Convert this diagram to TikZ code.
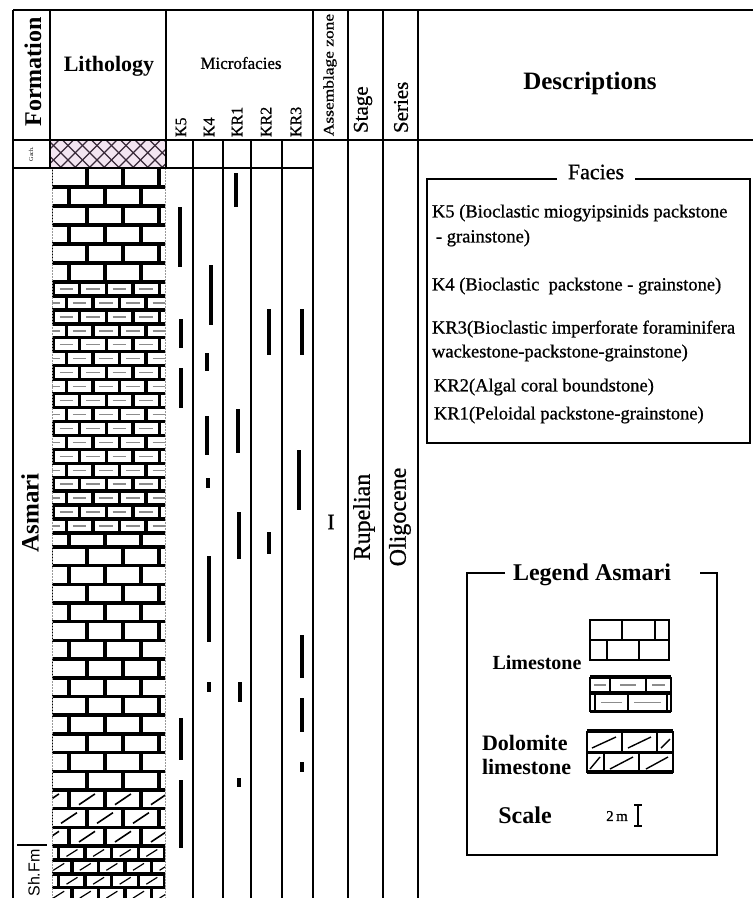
\documentclass[tikz,border=0pt]{standalone}
\usepackage{fontspec}
\setmainfont{Liberation Serif}
\newfontfamily\dk[FakeBold=0.8]{Liberation Serif}
\newfontfamily\shfont{Liberation Sans}
\newcommand{\fsz}[1]{\fontsize{#1}{#1}\selectfont}
\definecolor{hatchpink}{RGB}{243,229,241}
\definecolor{hatchline}{RGB}{55,40,55}
\begin{document}
\begin{tikzpicture}[x=1pt,y=-1pt,
  frame/.style={line width=2pt,black},
  subrule/.style={line width=1.5pt,black},
  colrule/.style={line width=1.8pt,black},
  mortar/.style={line width=3.4pt,black},
  finemortar/.style={line width=3.4pt,black},
  dashmark/.style={line width=1.4pt,black!45},
  slash/.style={line width=1.6pt,black},
  rangebar/.style={line width=4pt,black,line cap=butt},
  txt/.style={inner sep=0pt,outer sep=0pt,text=black},
  boxline/.style={line width=1.7pt,black},
]
\useasboundingbox (0,0) rectangle (753,898);
\fill[white] (0,0) rectangle (753,898);

% ---------- anhydrite cross-hatch ----------
\fill[hatchpink] (51,140) rectangle (166,168);
\begin{scope}
\clip (51,140) rectangle (166,168);
\foreach \k in {0,...,12}{
  \draw[hatchline,line width=1.3pt] ({30+14.5*\k},140) -- ++(-40,40);
  \draw[hatchline,line width=1.3pt] ({-10+14.5*\k},140) -- ++(40,40);
}
\end{scope}

% ---------- upper limestone (big bricks) ----------
\begin{scope}
\clip (52,166.5) rectangle (165,283);
\foreach \r in {0,...,5}{
  \pgfmathsetmacro{\ya}{168+19*\r}
  \pgfmathsetmacro{\yb}{\ya+19}
  \pgfmathsetmacro{\ph}{mod(\r,2)==0 ? 51 : 69}
  \draw[mortar] (40,\yb) -- (180,\yb);
  \foreach \k in {-1,...,4}{
    \pgfmathsetmacro{\xv}{\ph+36*\k}
    \draw[mortar] (\xv,\ya) -- (\xv,\yb);
  }
}
\end{scope}

% ---------- thin-bedded limestone (small bricks) ----------
\begin{scope}
\clip (52,281) rectangle (165,534);
\foreach \r in {0,...,17}{
  \pgfmathsetmacro{\ya}{282+13.944*\r}
  \pgfmathsetmacro{\yb}{\ya+13.944}
  \pgfmathsetmacro{\ym}{\ya+6.97}
  \pgfmathsetmacro{\ph}{mod(\r,2)==0 ? 53 : 66.3}
  \draw[finemortar] (40,\yb) -- (180,\yb);
  \foreach \k in {-1,...,5}{
    \pgfmathsetmacro{\xv}{\ph+26.6*\k}
    \draw[finemortar] (\xv,\ya) -- (\xv,\yb);
    \draw[dashmark] (\xv+6.5,\ym) -- (\xv+20,\ym);
  }
}
\end{scope}

% ---------- lower limestone / dolomitic limestone ----------
\begin{scope}
\clip (52,532) rectangle (165,847);
\draw[mortar] (40,547) -- (180,547);
\foreach \k in {-1,...,4}{
  \pgfmathsetmacro{\xv}{69+36*\k}
  \draw[mortar] (\xv,533) -- (\xv,547);
}
\foreach \r in {0,...,15}{
  \pgfmathsetmacro{\ya}{547+18.6875*\r}
  \pgfmathsetmacro{\yb}{\ya+18.6875}
  \pgfmathsetmacro{\ph}{mod(\r,2)==0 ? 51 : 69}
  \draw[mortar] (40,\yb) -- (180,\yb);
  \foreach \k in {-1,...,4}{
    \pgfmathsetmacro{\xv}{\ph+36*\k}
    \draw[mortar] (\xv,\ya) -- (\xv,\yb);
    \ifnum\r>12 \draw[slash] (\xv+10,\yb-4) -- (\xv+26,\ya+4); \fi
  }
}
\end{scope}

% ---------- Sh.Fm small dolomitic bricks ----------
\begin{scope}
\clip (52,845) rectangle (165,898);
\foreach \r in {0,...,3}{
  \pgfmathsetmacro{\ya}{846+13.9*\r}
  \pgfmathsetmacro{\yb}{\ya+13.9}
  \pgfmathsetmacro{\ph}{mod(\r,2)==0 ? 58.5 : 71.8}
  \draw[finemortar] (40,\yb) -- (180,\yb);
  \foreach \k in {-1,...,5}{
    \pgfmathsetmacro{\xv}{\ph+26.6*\k}
    \draw[finemortar] (\xv,\ya) -- (\xv,\yb);
    \draw[slash,line width=1.2pt] (\xv+8,\yb-3.5) -- (\xv+19,\ya+3.5);
  }
}
\end{scope}

\draw[black!40,line width=1pt,dash pattern=on 1.5pt off 1.5pt] (52,168) -- (52,898) (165,168) -- (165,898);

% ---------- table frame ----------
\draw[frame] (13,10) -- (753,10);
\draw[frame] (13,10) -- (13,898);
\draw[frame] (50,10) -- (50,168);
\draw[frame] (166,10) -- (166,168);
\draw[frame] (313,10) -- (313,898);
\draw[colrule] (348,10) -- (348,898);
\draw[colrule] (383,10) -- (383,898);
\draw[colrule] (418,10) -- (418,898);
\draw[frame] (13,140) -- (753,140);
\draw[frame] (13,168) -- (313,168);
\foreach \x in {193,223,251,282} \draw[subrule] (\x,140) -- (\x,898);
\draw[subrule] (17,845) -- (47,845);

% ---------- header texts ----------
\node[txt,rotate=90,font=\bfseries\fsz{24}] (hformation) at (33,72) {Formation};
\node[txt,font=\bfseries\fsz{22}] (hlitho) at (109,66) {Lithology};
\node[txt,font=\dk\fsz{17}] (hmicro) at (241,63) {Microfacies};
\node[txt,rotate=90,anchor=west,font=\dk\fsz{16}] (hk5) at (181,137) {K5};
\node[txt,rotate=90,anchor=west,font=\dk\fsz{16}] (hk4) at (209,137) {K4};
\node[txt,rotate=90,anchor=west,font=\dk\fsz{16}] (hkr1) at (237,137) {KR1};
\node[txt,rotate=90,anchor=west,font=\dk\fsz{16}] (hkr2) at (266,137) {KR2};
\node[txt,rotate=90,anchor=west,font=\dk\fsz{16}] (hkr3) at (296,137) {KR3};
\node[txt,rotate=90,font=\dk\fsz{14.5}] (hassem) at (330,75) {\scalebox{1.2}[1]{Assemblage zone}};
\node[txt,rotate=90,anchor=west,font=\dk\fsz{21}] (hstage) at (363,133) {Stage};
\node[txt,rotate=90,anchor=west,font=\dk\fsz{21}] (hseries) at (401,133) {Series};
\node[txt,font=\bfseries\fsz{25}] (hdesc) at (590,83) {Descriptions};

% ---------- body texts ----------
\node[txt,rotate=90,font=\fsz{6}] (gach) at (31,154) {Gach.};
\node[txt,rotate=90,font=\bfseries\fsz{25}] (asmari) at (30,513) {Asmari};
\node[txt,rotate=90,font=\shfont\fsz{16}] (shfm) at (34,873) {Sh.Fm};
\node[txt,font=\dk\fsz{22}] (zoneI) at (331,522) {I};
\node[txt,rotate=90,font=\dk\fsz{24}] (rupelian) at (364,517) {Rupelian};
\node[txt,rotate=90,font=\dk\fsz{24}] (oligocene) at (400,517) {Oligocene};

% ---------- microfacies ranges ----------
\foreach \x/\ya/\yb in {
  180/207/267, 181/319/348, 181/368/408, 181/718/760, 181/780/848,
  211/265/325, 207/353/371, 207/416/455, 208/478/488, 209/556/642, 209/682/692,
  236/173/207, 238/409/453, 239/512/559, 240/682/702, 239/778/787,
  269/309/355, 269/532/554,
  302/309/355, 299/450/510, 302/635/678, 302/698/732, 302/762/772}
  \draw[rangebar] (\x,\ya) -- (\x,\yb);

% ---------- Facies box ----------
\draw[boxline] (557,179) -| (427,443) -| (750,179) -- (635,179);
\node[txt,font=\dk\fsz{22}] (faciest) at (596,172) {Facies};
\node[txt,anchor=west,font=\dk\fsz{18.5}] (f1) at (432,213) {K5 (Bioclastic miogyipsinids packstone};
\node[txt,anchor=west,font=\dk\fsz{18.5}] (f2) at (436,238) {- grainstone)};
\node[txt,anchor=west,font=\dk\fsz{18.5}] (f3) at (432,286) {K4 (Bioclastic\ \ packstone - grainstone)};
\node[txt,anchor=west,font=\dk\fsz{18.5}] (f4) at (432,329) {KR3(Bioclastic imperforate foraminifera};
\node[txt,anchor=west,font=\dk\fsz{18.5}] (f5) at (432,353) {wackestone-packstone-grainstone)};
\node[txt,anchor=west,font=\dk\fsz{18.5}] (f6) at (434,387) {KR2(Algal coral boundstone)};
\node[txt,anchor=west,font=\dk\fsz{18.5}] (f7) at (434,415) {KR1(Peloidal packstone-grainstone)};

% ---------- Legend box ----------
\draw[boxline] (505,573) -| (467,855) -| (717,573) -- (700,573);
\node[txt,font=\bfseries\fsz{24}] (legt) at (592,575) {Legend Asmari};
\node[txt,font=\bfseries\fsz{20}] (leglime) at (537,663) {Limestone};
\node[txt,anchor=west,font=\bfseries\fsz{22}] (legdol1) at (482,743) {Dolomite};
\node[txt,anchor=west,font=\bfseries\fsz{22}] (legdol2) at (482,767) {limestone};
\node[txt,font=\bfseries\fsz{24}] (legscale) at (525,815) {Scale};
\node[txt,font=\dk\fsz{15}] (legtwom) at (617,816) {2\,m};

% legend pattern 1: limestone
\draw[mortar,line width=2.6pt] (590,620) rectangle (669,660);
\draw[mortar,line width=2.6pt] (590,640) -- (669,640)
  (622,620) -- (622,640) (655,620) -- (655,640)
  (607,640) -- (607,660) (639,640) -- (639,660);
% legend pattern 2: thin-bedded limestone
\draw[mortar,line width=3.2pt] (590,677) -- (671,677) (590,693) -- (671,693) (590,711.5) -- (671,711.5);
\draw[mortar,line width=2.6pt] (590,677) -- (590,712) (671,677) -- (671,712)
  (610,677) -- (610,693) (646,677) -- (646,693)
  (595,693) -- (595,712) (628,693) -- (628,712) (667,693) -- (667,712);
\draw[dashmark] (594,685) -- (606,685) (620,685) -- (636,685) (652,685) -- (665,685)
  (601,702.5) -- (622,702.5) (634,702.5) -- (661,702.5);
% legend pattern 3: dolomitic limestone
\draw[mortar,line width=3.2pt] (587,731) -- (673,731) (587,752.5) -- (673,752.5) (587,772) -- (673,772);
\draw[mortar,line width=2.6pt] (587,731) -- (587,773) (673,731) -- (673,773)
  (622,731) -- (622,752.5) (657,731) -- (657,752.5)
  (604,752.5) -- (604,773) (639,752.5) -- (639,773);
\draw[slash,line width=1.4pt] (592,748) -- (616,737) (628,748) -- (651,737) (661,748) -- (670,739)
  (590,769) -- (600,757) (610,769) -- (633,757) (646,769) -- (668,757);

% scale bar
\draw[line width=1.8pt] (638,805) -- (638,826) (634,805) -- (642,805) (634,826) -- (642,826);
\end{tikzpicture}
\end{document}
